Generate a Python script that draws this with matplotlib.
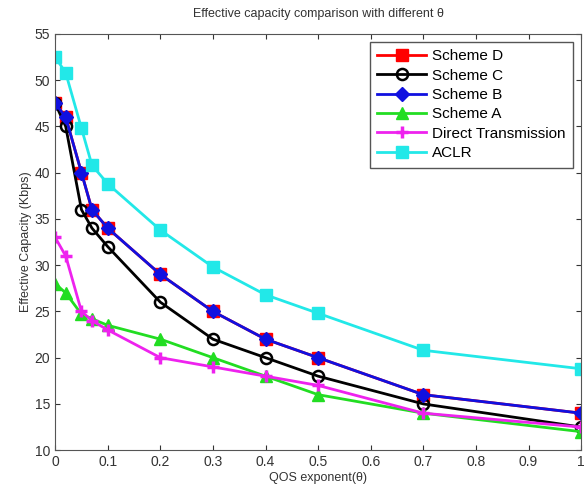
import matplotlib
matplotlib.use('Agg')
import matplotlib.pyplot as plt

theta = [0, 0.02, 0.05, 0.07, 0.1, 0.2, 0.3, 0.4, 0.5, 0.7, 1.0]
scheme_d = [47.5, 46, 40, 36, 34, 29, 25, 22, 20, 16, 14]
scheme_c = [47.5, 45, 36, 34, 32, 26, 22, 20, 18, 15, 12.5]
scheme_b = [47.5, 46, 40, 36, 34, 29, 25, 22, 20, 16, 14]
scheme_a = [28, 27, 24.7, 24.2, 23.5, 22, 20, 18, 16, 14, 12]
direct = [33, 31, 25, 24, 23, 20, 19, 18, 17, 14, 12.5]
aclr = [52.5, 50.8, 44.8, 40.8, 38.8, 33.8, 29.8, 26.8, 24.8, 20.8, 18.8]

plt.rcParams['font.family'] = 'Liberation Sans'
fig = plt.figure(figsize=(5.87, 4.92), dpi=100)
ax = fig.add_axes([0.094, 0.085, 0.896, 0.846])

ax.plot(theta, scheme_d, '-s', color='red', lw=2, ms=9, mfc='red', label='Scheme D')
ax.plot(theta, scheme_c, '-o', color='black', lw=2, ms=8, mfc='none', mew=1.8, label='Scheme C')
ax.plot(theta, scheme_b, '-D', color='#1010e0', lw=2, ms=7, label='Scheme B')
ax.plot(theta, scheme_a, '-^', color='#22dd22', lw=2, ms=8, label='Scheme A')
ax.plot(theta, direct, '-+', color='#ee22ee', lw=2, ms=9, mew=2.5, label='Direct Transmission')
ax.plot(theta, aclr, '-s', color='#22e8e8', lw=2, ms=9, label='ACLR')

ax.set_xlim(0, 1)
ax.set_ylim(10, 55)
ax.set_xticks([0, 0.1, 0.2, 0.3, 0.4, 0.5, 0.6, 0.7, 0.8, 0.9, 1])
ax.set_xticklabels(['0', '0.1', '0.2', '0.3', '0.4', '0.5', '0.6', '0.7', '0.8', '0.9', '1'])
ax.set_yticks(range(10, 56, 5))
ax.tick_params(direction='in', top=True, right=True, labelsize=10, colors='#333333')
for s in ax.spines.values():
    s.set_color('#555555')

ax.set_xlabel('QOS exponent(\u03b8)', fontsize=9, color='#333333', labelpad=2)
ax.set_ylabel('Effective Capacity (Kbps)', fontsize=9, color='#333333', labelpad=2)
ax.set_title('Effective capacity comparison with different \u03b8', fontsize=9, color='#333333', pad=12)

leg = ax.legend(loc='upper right', fontsize=11, fancybox=False, framealpha=1,
                edgecolor='#555555', handlelength=3.2, borderaxespad=0.5,
                labelspacing=0.35, handletextpad=0.4, borderpad=0.5)

fig.savefig('out.png', dpi=100)
